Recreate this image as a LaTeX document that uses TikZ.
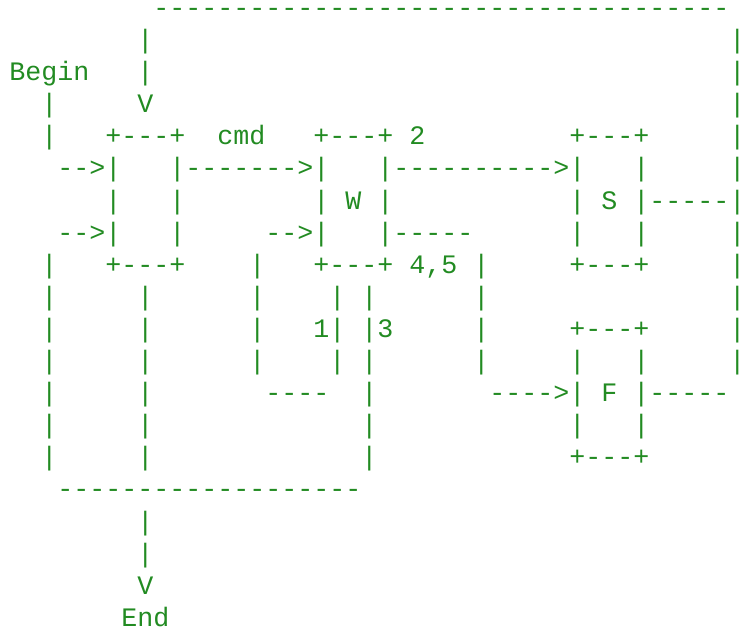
\documentclass[tikz,border=0pt]{standalone}
\usepackage{fontspec}
\newfontfamily\asciifont{Liberation Mono}[Ligatures=TeXOff]
\definecolor{asciigreen}{RGB}{34,139,34}

\begin{document}
\begin{tikzpicture}[x=8pt,y=-16.05pt,
	ascii/.style={font={\asciifont\fontsize{13.33pt}{16pt}\selectfont},text=asciigreen,inner sep=0pt,anchor=base west}]
\useasboundingbox (-0.5625,-0.511) rectangle (45.75,19.27);

% labels
\node[ascii] (begin) at (0,2) {Begin};
\node[ascii] (end) at (7,19) {End};
\node[ascii] (vin) at (8,3) {V};
\node[ascii] (vout) at (8,18) {V};
\node[ascii] (cmd) at (13,4) {cmd};
\node[ascii] (two) at (25,4) {2};
\node[ascii] (fourfive) at (25,8) {4,5};
\node[ascii] (one) at (19,10) {1};
\node[ascii] (three) at (23,10) {3};
\node[ascii] (w) at (21,6) {W};
\node[ascii] (s) at (37,6) {S};
\node[ascii] (f) at (37,12) {F};

% box corners
\foreach \c/\r in {6/4,6/8,19/4,19/8,35/4,35/8,35/10,35/14}
	\node[ascii] (box\c-\r) at (\c,\r) {+---+};

% dashes and arrows
\node[ascii] (top) at (9,0) {------------------------------------};
\node[ascii] (bottom) at (3,15) {-------------------};
\node[ascii] (inA) at (3,5) {-->};
\node[ascii] (inB) at (3,7) {-->};
\node[ascii] (tocmd) at (11,5) {------->};
\node[ascii] (tos) at (24,5) {---------->};
\node[ascii] (inW) at (16,7) {-->};
\node[ascii] (outW) at (24,7) {-----};
\node[ascii] (outS) at (40,6) {-----};
\node[ascii] (back) at (16,12) {----};
\node[ascii] (tof) at (30,12) {---->};
\node[ascii] (outF) at (40,12) {-----};

% vertical bars
\foreach \c/\rows in {2/{3,4,8,9,10,11,12,13,14}, 8/{1,2,9,10,11,12,13,14,16,17},
	6/{5,6,7}, 10/{5,6,7}, 19/{5,6,7}, 23/{5,6,7}, 15/{8,9,10,11}, 20/{9,10,11},
	22/{9,10,11,12,13,14}, 29/{8,9,10,11}, 35/{5,6,7,11,12,13}, 39/{5,6,7,11,12,13},
	45/{1,2,3,4,5,6,7,8,9,10,11}}
	\foreach \r in \rows
		\node[ascii] (bar\c-\r) at (\c,\r) {|};
\end{tikzpicture}
\end{document}
